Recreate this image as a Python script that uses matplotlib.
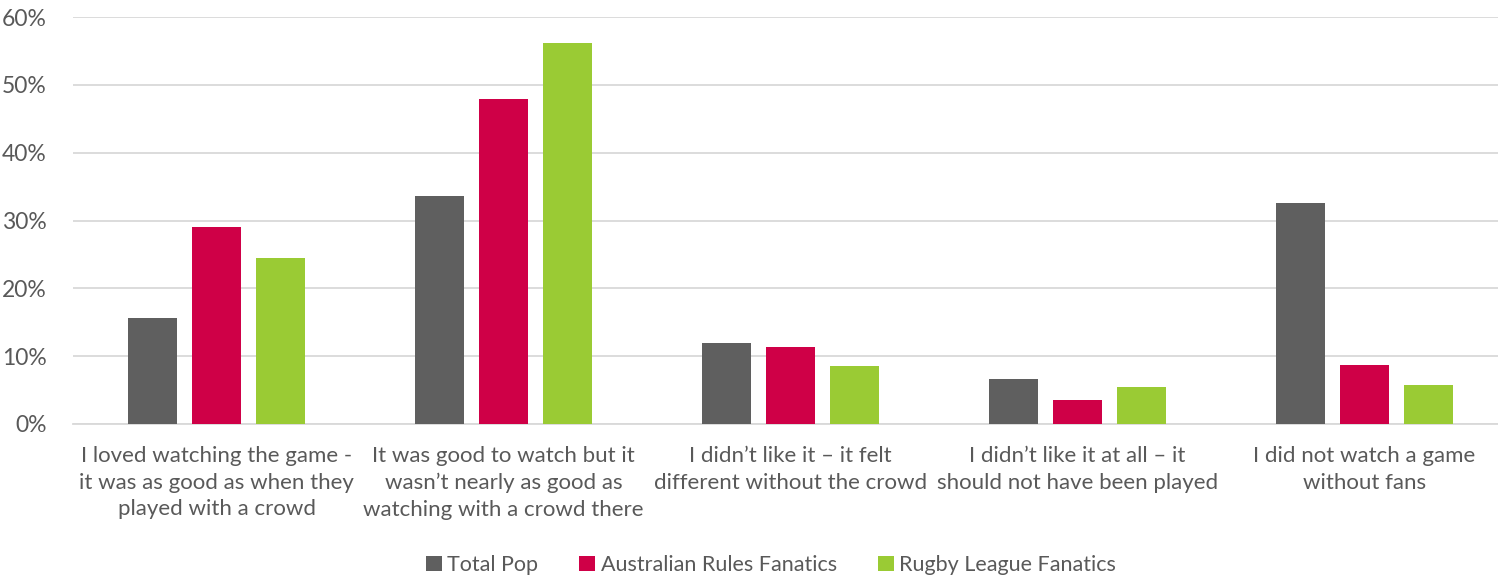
import numpy as np
import matplotlib.pyplot as plt
from matplotlib.ticker import PercentFormatter

plt.rcParams['font.family'] = ['Lato', 'DejaVu Sans']

categories = [
    "I loved watching the game -\nit was as good as when they\nplayed with a crowd",
    "It was good to watch but it\nwasn\u2019t nearly as good as\nwatching with a crowd there",
    "I didn\u2019t like it \u2013 it felt\ndifferent without the crowd",
    "I didn\u2019t like it at all \u2013 it\nshould not have been played",
    "I did not watch a game\nwithout fans",
]
series_names = ["Total Pop", "Australian Rules Fanatics", "Rugby League Fanatics"]
total_pop = [15.6, 33.6, 11.9, 6.7, 32.6]
afl_fanatics = [29.0, 47.9, 11.3, 3.6, 8.7]
nrl_fanatics = [24.5, 56.2, 8.5, 5.4, 5.8]
colors = ["#5f5f5f", "#cf0047", "#9acb34"]

text_color = "#595959"
grid_color = "#d9d9d9"

fig = plt.figure(figsize=(14.98, 5.77), dpi=100)
ax = fig.add_axes([73 / 1498, 1 - 424 / 577, 1435 / 1498, 407 / 577])

x = np.arange(len(categories))
width = 0.174
step = 0.223
for i, (vals, name, c) in enumerate(zip([total_pop, afl_fanatics, nrl_fanatics], series_names, colors)):
    ax.bar(x + (i - 1) * step, vals, width, color=c, label=name, zorder=3)

ax.set_xlim(-0.5, len(categories) - 0.5)
ax.set_ylim(0, 60)
ax.set_yticks(range(0, 61, 10))
ax.yaxis.set_major_formatter(PercentFormatter(decimals=0))
ax.grid(axis='y', color=grid_color, linewidth=1.3, zorder=0)
for s in ["top", "right", "left"]:
    ax.spines[s].set_visible(False)
ax.spines["bottom"].set_color(grid_color)
ax.spines["bottom"].set_linewidth(1.3)

ax.set_xticks(x)
ax.set_xticklabels(categories, fontsize=16, color=text_color, linespacing=1.4)
ax.tick_params(axis='x', length=0, pad=16)
ax.tick_params(axis='y', length=0, labelsize=16.5, labelcolor=text_color, pad=19)

fig.legend(loc='center', bbox_to_anchor=(771 / 1498, 1 - 565 / 577), ncol=3,
           frameon=False, fontsize=15.5, labelcolor=text_color, handlelength=0.75,
           handleheight=0.75, handletextpad=0.25, columnspacing=1.9)

fig.savefig("out.png", dpi=100)
